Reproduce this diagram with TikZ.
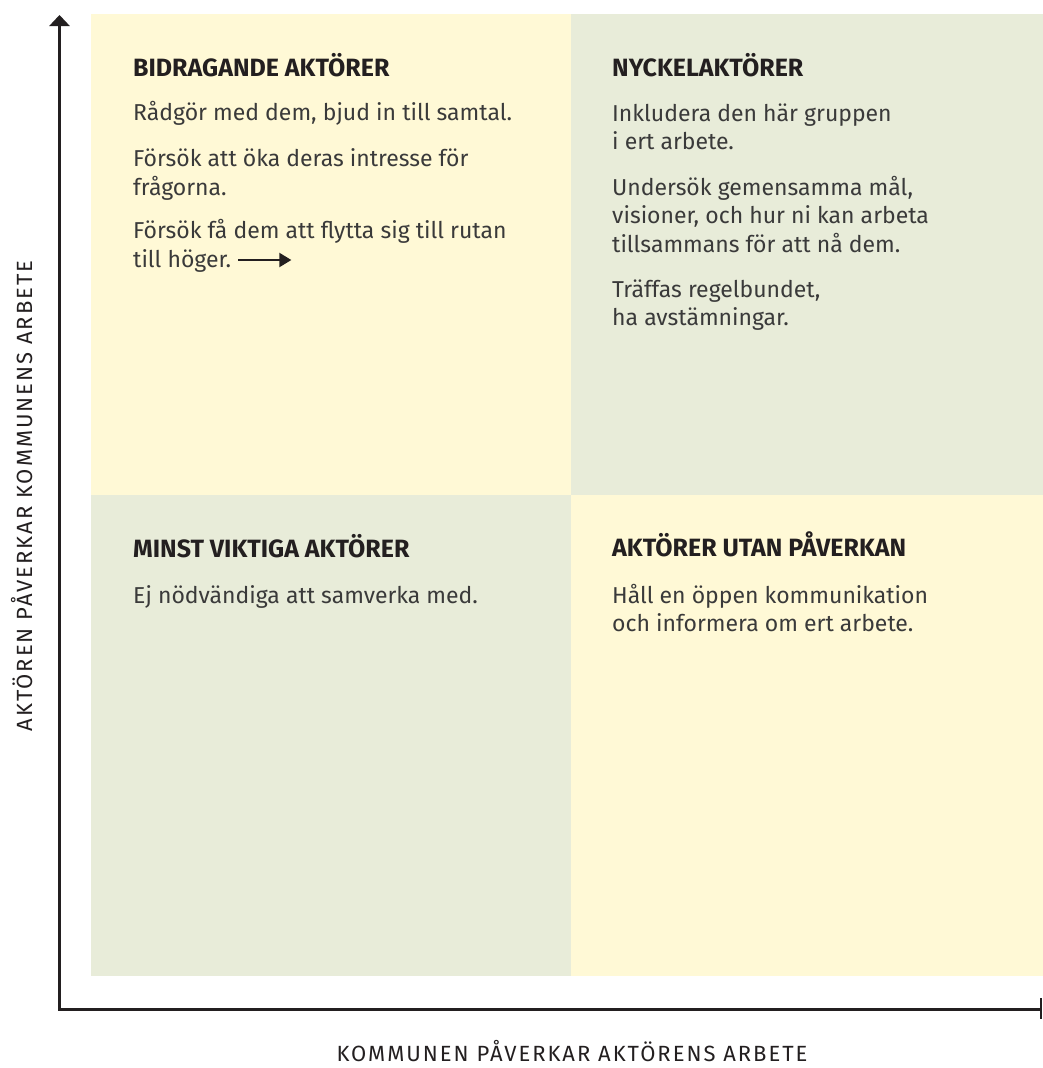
\documentclass[tikz,border=0pt]{standalone}
\usepackage{fontspec}
\setmainfont{Fira Sans}
\newfontfamily\axisfont[LetterSpace=9]{Fira Sans}
\usetikzlibrary{arrows.meta}
\definecolor{qyellow}{HTML}{FFF9D6}
\definecolor{qgreen}{HTML}{E8ECD9}
\definecolor{ink}{HTML}{231F20}
\definecolor{bodyink}{HTML}{3A3A3A}
\tikzset{
  ttl/.style={anchor=base west, inner sep=0pt, font=\fontsize{25}{30}\selectfont\bfseries, text=ink},
  body/.style={anchor=base west, inner sep=0pt, font=\fontsize{23}{28}\selectfont, text=bodyink},
  axis/.style={line width=3pt, draw=ink},
  axlbl/.style={anchor=base, inner sep=0pt, font=\axisfont\fontsize{22}{26}\selectfont, text=ink}
}
\begin{document}
\begin{tikzpicture}[x=1pt,y=-1pt]
\useasboundingbox (0,0) rectangle (1043,1068);
% quadrants
\fill[qyellow] (91,14) rectangle (571,495);
\fill[qgreen] (571,14) rectangle (1043,495);
\fill[qgreen] (91,495) rectangle (571,976);
\fill[qyellow] (571,495) rectangle (1043,976);
% axes
\coordinate (origin) at (59.5,1009);
\coordinate (ytop) at (59.5,15);
\coordinate (xend) at (1041,1009);
\draw[axis, -{Triangle[length=11pt,width=20pt]}] (origin) -- (ytop);
\draw[axis] ([xshift=-1.5pt]origin) -- (xend);
\coordinate (xbt) at (1041,998);
\coordinate (xbb) at (1041,1019);
\draw[line width=2.5pt, draw=ink] (xbt) -- (xbb);
% axis labels
\node[axlbl] (xl) at (572,1061) {KOMMUNEN PÅVERKAR AKTÖRENS ARBETE};
\node[axlbl, rotate=90] (yl) at (32,496) {AKTÖREN PÅVERKAR KOMMUNENS ARBETE};
% Q1
\node[ttl] (t1) at (133,76) {BIDRAGANDE AKTÖRER};
\node[body] (b1a) at (133,120) {Rådgör med dem, bjud in till samtal.};
\node[body] (b1b) at (133,166) {Försök att öka deras intresse för};
\node[body] (b1c) at (133,195) {frågorna.};
\node[body] (b1d) at (133,238) {Försök få dem att flytta sig till rutan};
\node[body] (b1e) at (133,267) {till höger.};
\coordinate (arS) at ([xshift=7pt,yshift=7pt]b1e.base east);
\coordinate (arE) at ([xshift=60pt,yshift=7pt]b1e.base east);
\draw[line width=2pt, draw=ink, -{Triangle[length=12pt,width=14pt]}] (arS) -- (arE);
% Q2
\node[ttl] (t2) at (612,76) {NYCKELAKTÖRER};
\node[body] (b2a) at (612,121) {Inkludera den här gruppen};
\node[body] (b2b) at (612,149) {i ert arbete.};
\node[body] (b2c) at (612,195) {Undersök gemensamma mål,};
\node[body] (b2d) at (612,223) {visioner, och hur ni kan arbeta};
\node[body] (b2e) at (612,252) {tillsammans för att nå dem.};
\node[body] (b2f) at (612,297) {Träffas regelbundet,};
\node[body] (b2g) at (612,325) {ha avstämningar.};
% Q3
\node[ttl] (t3) at (133,557) {MINST VIKTIGA AKTÖRER};
\node[body] (b3a) at (133,603) {Ej nödvändiga att samverka med.};
% Q4
\node[ttl] (t4) at (612,556) {AKTÖRER UTAN PÅVERKAN};
\node[body] (b4a) at (612,603) {Håll en öppen kommunikation};
\node[body] (b4b) at (612,631) {och informera om ert arbete.};
\end{tikzpicture}
\end{document}
